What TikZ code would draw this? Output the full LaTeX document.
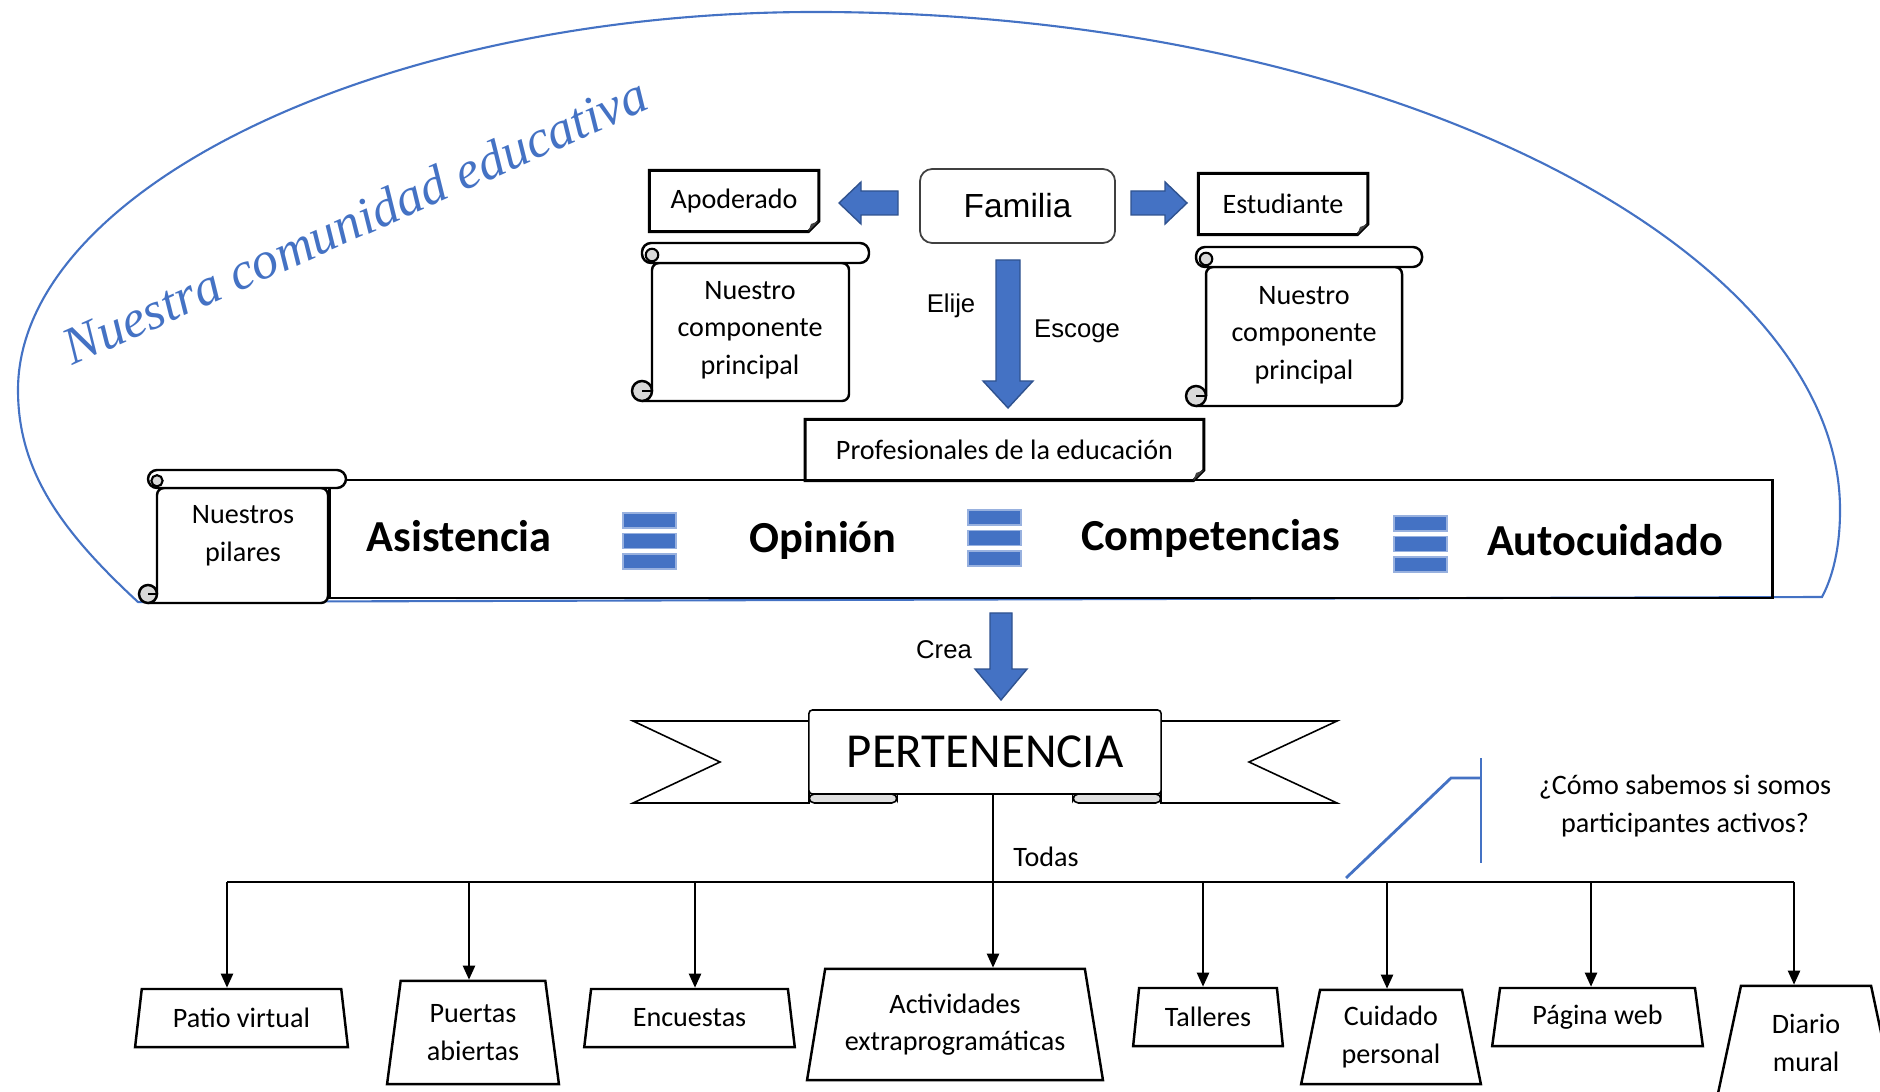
\documentclass[tikz,border=0pt]{standalone}
\usepackage{fontspec}
\setmainfont{Carlito}
\newfontfamily\arialfont{Liberation Sans}
\newfontfamily\cambriafont{Liberation Serif}
\usepackage{xcolor}
\usepackage{tikz}
\usetikzlibrary{shapes.geometric,arrows.meta}

\definecolor{lineblue}{HTML}{4472C4}
\definecolor{darkblue}{HTML}{2F528F}

\tikzset{
  small/.style={font=\fontsize{8}{10.7}\selectfont, align=center},
  docbox/.style={small, minimum width=1.68cm, minimum height=0.6cm, inner sep=0pt},
  pilar/.style={font=\fontsize{12.6}{15}\selectfont\bfseries},
  trap/.style={small, draw, fill=white, line width=0.7pt, trapezium, trapezium stretches=true,
    trapezium left angle=#1, trapezium right angle=#1, inner sep=0pt},
  drop/.style={line width=0.7pt, -{Triangle[length=4pt,width=3.4pt]}},
  blockarrow/.style={fill=lineblue, draw=darkblue, line width=0.4pt},
  bar/.style={fill=lineblue, draw=lineblue!55!white, line width=0.4pt},
  arial/.style={font=\arialfont\fontsize{7.3}{9}\selectfont},
}

\newcommand{\scrollshape}[5]{%
  \filldraw[fill=white, line width=0.7pt, rounded corners=2pt]
    (#1+#5/2,#4) -- (#3-#5,#4) -- (#3-#5,#2+#5) -- (#1+#5,#2+#5) -- (#1+#5,#4-#5/2);
  \filldraw[fill=white, line width=0.7pt, rounded corners=2.6pt] (#1+#5/2,#2) rectangle (#3,#2+#5);
  \filldraw[fill=gray!30, line width=0.6pt] (#1+#5,#2+#5*0.6) circle [radius=#5/3.2];
  \filldraw[fill=gray!30, line width=0.7pt] (#1+#5/2,#4-#5/2) circle [radius=#5/2];
  \draw[line width=0.5pt] (#1+#5/2,#4-#5/2) -- (#1+#5,#4-#5/2);
}

\newcommand{\foldbox}[1]{%
  \draw[line width=0.85pt] (#1.north west) -- (#1.north east) -- ([yshift=3pt]#1.south east)
    -- ([xshift=-3pt]#1.south east) -- (#1.south west) -- cycle;
  \fill[black!75] ([yshift=3pt]#1.south east) -- ([xshift=-3pt]#1.south east)
    -- ([xshift=-2.2pt,yshift=2.2pt]#1.south east) -- cycle;
}

\begin{document}
\begin{tikzpicture}[x=0.01cm,y=-0.01cm]
\useasboundingbox (0,0) rectangle (1880,1092);

\draw[lineblue, line width=0.6pt] (138,602) .. controls (60,530) and (18,470) .. (18,390)
  .. controls (18,190) and (380,12) .. (815,12)
  .. controls (1390,12) and (1840,250) .. (1840,510)
  .. controls (1840,550) and (1832,578) .. (1822,597) -- cycle;

\node[anchor=base, rotate=24, text=lineblue, font=\cambriafont\itshape\fontsize{15}{18}\selectfont]
  (comu) at (362,237) {Nuestra comunidad educativa};

\node[draw=black!75, line width=0.5pt, rounded corners=3.5pt, minimum width=1.95cm, minimum height=0.74cm,
  font=\arialfont\fontsize{9.5}{11}\selectfont] (fam) at (1017.5,206) {Familia};
\node[docbox] (apod) at (734,201) {Apoderado};
\node[docbox] (estu) at (1283,204) {Estudiante};
\foldbox{apod}
\foldbox{estu}

\filldraw[blockarrow] (839,203) -- (861,182) -- (861,191) -- (898,191) -- (898,215) -- (861,215) -- (861,224) -- cycle;
\filldraw[blockarrow] (1187,203) -- (1165,182) -- (1165,191) -- (1131,191) -- (1131,215) -- (1165,215) -- (1165,224) -- cycle;

\scrollshape{632}{243}{869}{401}{20}
\node[small] (compa) at (750,330) {Nuestro\\componente\\principal};
\scrollshape{1186}{247}{1422}{406}{20}
\node[small] (compe) at (1304,335) {Nuestro\\componente\\principal};

\filldraw[blockarrow] (1008,408) -- (983,381) -- (996,381) -- (996,260) -- (1020,260) -- (1020,381) -- (1033,381) -- cycle;
\node[arial] (elije) at (951,306) {Elije};
\node[arial] (escoge) at (1077,331) {Escoge};

\node[draw, line width=0.8pt, minimum width=14.42cm, minimum height=1.18cm] (pil) at (1051,539) {};
\node[docbox, minimum width=3.97cm] (prof) at (1004.5,450) {Profesionales de la educación};
\foldbox{prof}

\node[pilar] (asis) at (459,536) {Asistencia};
\node[pilar] (opin) at (823,540) {Opinión};
\node[pilar] (comp) at (1211,538) {Competencias};
\node[pilar] (auto) at (1605,540) {Autocuidado};
\foreach \cx/\cy in {649/513, 994/510, 1420/516}
  \foreach \k in {0,1,2}
    \filldraw[bar] (\cx-26,\cy+\k*20.5) rectangle ++(53,15);

\scrollshape{139}{470}{346}{603}{18}
\node[small] (pilares) at (243,536) {Nuestros\\pilares};

\filldraw[blockarrow] (1001,700) -- (975,669) -- (990,669) -- (990,613) -- (1012,613) -- (1012,669) -- (1027,669) -- cycle;
\node[arial] (crea) at (944,650) {Crea};

\filldraw[fill=white, line width=0.45pt] (809,721) -- (633,721) -- (720,762) -- (633,803) -- (809,803) -- cycle;
\filldraw[fill=white, line width=0.45pt] (1161,721) -- (1337,721) -- (1249,762) -- (1337,803) -- (1161,803) -- cycle;
\filldraw[fill=gray!25, line width=0.45pt, rounded corners=1.5pt] (809,794) rectangle (897,803);
\filldraw[fill=gray!25, line width=0.45pt, rounded corners=1.5pt] (1073,794) rectangle (1161,803);
\node[draw, fill=white, line width=0.45pt, rounded corners=1pt, minimum width=3.52cm, minimum height=0.84cm,
  font=\fontsize{13.9}{16}\selectfont] (pert) at (985,752) {PERTENENCIA};

\node[trap=76.9, minimum width=2.13cm, minimum height=0.58cm] (pat) at (241.5,1018) {Patio virtual};
\node[trap=81.2, minimum width=1.72cm, minimum height=1.03cm] (pue) at (473,1032.5) {Puertas\\abiertas};
\node[trap=77.8, minimum width=2.11cm, minimum height=0.58cm] (enc) at (689.5,1018) {Encuestas};
\node[trap=76.1, minimum width=2.96cm, minimum height=1.11cm] (act) at (955,1024.5) {Actividades\\extraprogramáticas};
\node[trap=79.3, minimum width=1.50cm, minimum height=0.58cm] (tal) at (1208,1017) {Talleres};
\node[trap=78, minimum width=1.80cm, minimum height=0.94cm] (cui) at (1391,1037) {Cuidado\\personal};
\node[trap=77.8, minimum width=2.11cm, minimum height=0.58cm] (pag) at (1597.5,1017) {Página web};
\node[trap=77.4, minimum width=1.79cm, minimum height=1.14cm] (dia) at (1806,1043) {Diario\\mural};

\coordinate (bus) at (993,882);
\draw[line width=0.7pt] (227,882) -- (1794,882);
\draw[drop] (pert.south -| bus) -- (bus |- act.north);
\node[small] (todas) at (1046,857) {Todas};
\foreach \x/\n in {227/pat,469/pue,695/enc,1203/tal,1387/cui,1591/pag,1794/dia}{
  \coordinate (b\n) at (\x,882);
  \draw[drop] (b\n) -- (b\n |- \n.north);
}

\coordinate (callout) at (1481,778);
\draw[lineblue, line width=0.8pt] (1346,878) -- (1451,778) -- (callout);
\draw[lineblue, line width=0.8pt] (callout |- 0,758) -- (callout |- 0,863);
\node[small] (preg) at (1685,806) {¿Cómo sabemos si somos\\participantes activos?};
\end{tikzpicture}
\end{document}
